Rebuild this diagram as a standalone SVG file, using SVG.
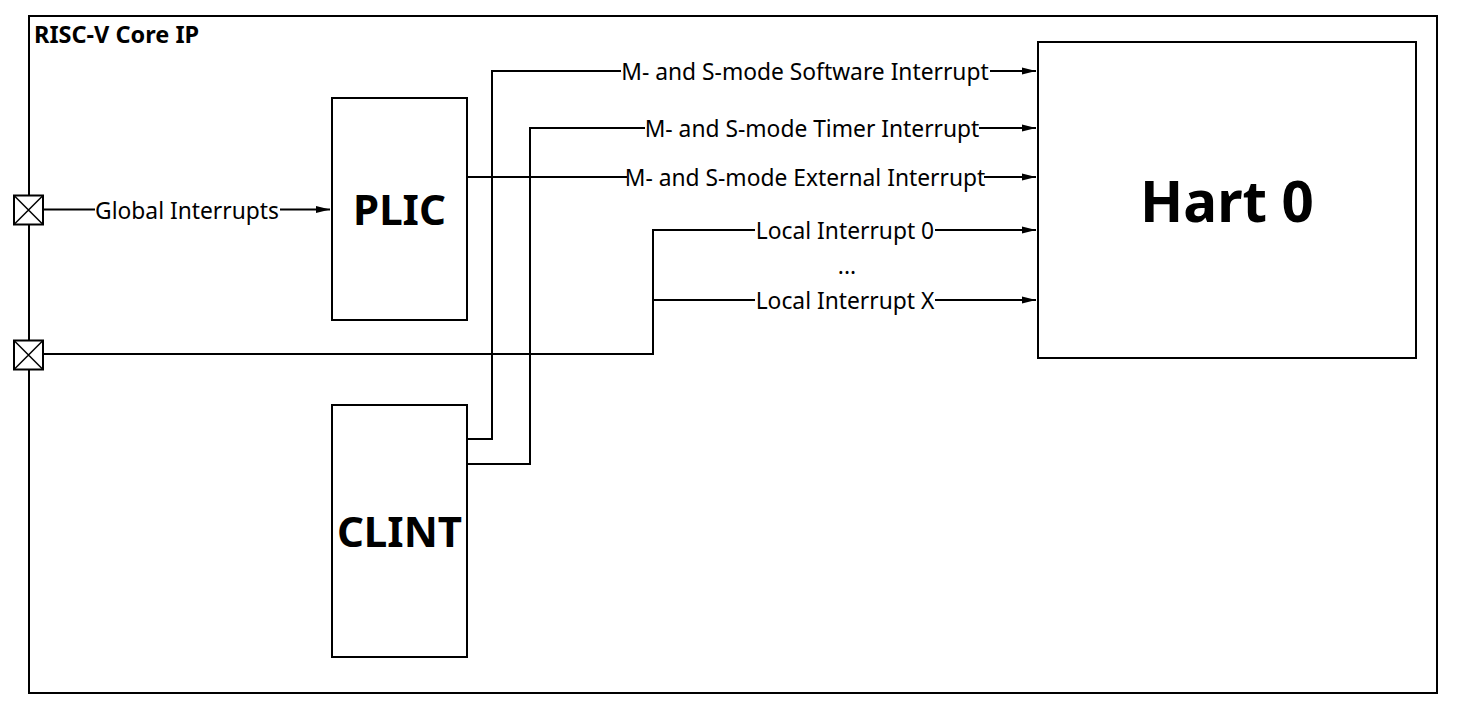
<svg xmlns="http://www.w3.org/2000/svg" width="1468" height="710" viewBox="0 0 1468 710">
<style>
.box{fill:#fff;stroke:#000;stroke-width:2}
.ln{fill:none;stroke:#000;stroke-width:2}
.bg{fill:#fff}
.lbl{font-family:"Noto Sans","Open Sans",sans-serif;font-size:22.8px;fill:#000;text-anchor:middle;dominant-baseline:central}
.big{font-family:"Noto Sans","Open Sans",sans-serif;font-weight:bold;fill:#000;text-anchor:middle}
</style>
<defs>
<marker id="arr" markerWidth="14" markerHeight="8" refX="14" refY="4" orient="auto" markerUnits="userSpaceOnUse">
<path d="M0,0.5 L14,4 L0,7.5 z" fill="#000"/>
</marker>
</defs>
<rect width="1468" height="710" fill="#fff"/>
<g id="core">
<rect x="29" y="16" width="1408" height="677" class="box"/>
<text x="34" y="43" class="big" style="text-anchor:start;font-size:23.5px">RISC-V Core IP</text>
</g>
<g id="connectors">
<path class="ln" d="M43,209.5 H330" marker-end="url(#arr)"/>
<path class="ln" d="M467,177 H1036" marker-end="url(#arr)"/>
<path class="ln" d="M467,439 H492 V71 H1036" marker-end="url(#arr)"/>
<path class="ln" d="M467,464 H530 V128 H1036" marker-end="url(#arr)"/>
<path class="ln" d="M43,354 H653 V230 H1036" marker-end="url(#arr)"/>
<path class="ln" d="M653,300 H1036" marker-end="url(#arr)"/>
<rect class="bg" x="95" y="200" width="185" height="20"/>
<rect class="bg" x="621" y="61" width="369" height="20"/>
<rect class="bg" x="645" y="118" width="334" height="20"/>
<rect class="bg" x="627" y="167" width="357" height="20"/>
<rect class="bg" x="755" y="220" width="180" height="20"/>
<rect class="bg" x="755" y="290" width="180" height="20"/>
<text x="187" y="210" class="lbl">Global Interrupts</text>
<text x="805" y="71" class="lbl">M- and S-mode Software Interrupt</text>
<text x="812" y="128" class="lbl">M- and S-mode Timer Interrupt</text>
<text x="805" y="177" class="lbl">M- and S-mode External Interrupt</text>
<text x="845" y="230" class="lbl">Local Interrupt 0</text>
<text x="847" y="265" class="lbl">...</text>
<text x="845" y="300" class="lbl">Local Interrupt X</text>
</g>
<g id="port1">
<rect x="14" y="195.5" width="29" height="29" class="box"/>
<path class="ln" d="M14,195.5 L43,224.5 M43,195.5 L14,224.5" style="stroke-width:1.5"/>
</g>
<g id="port2">
<rect x="14" y="340.5" width="29" height="29" class="box"/>
<path class="ln" d="M14,340.5 L43,369.5 M43,340.5 L14,369.5" style="stroke-width:1.5"/>
</g>
<g id="plic">
<rect x="332" y="98" width="135" height="222" class="box"/>
<text x="399.5" y="225" class="big" style="font-size:42px">PLIC</text>
</g>
<g id="clint">
<rect x="332" y="405" width="135" height="252" class="box"/>
<text x="399.5" y="547" class="big" style="font-size:42px">CLINT</text>
</g>
<g id="hart0">
<rect x="1038" y="42" width="378" height="316" class="box"/>
<text x="1227" y="222" class="big" style="font-size:56.5px">Hart 0</text>
</g>
</svg>
